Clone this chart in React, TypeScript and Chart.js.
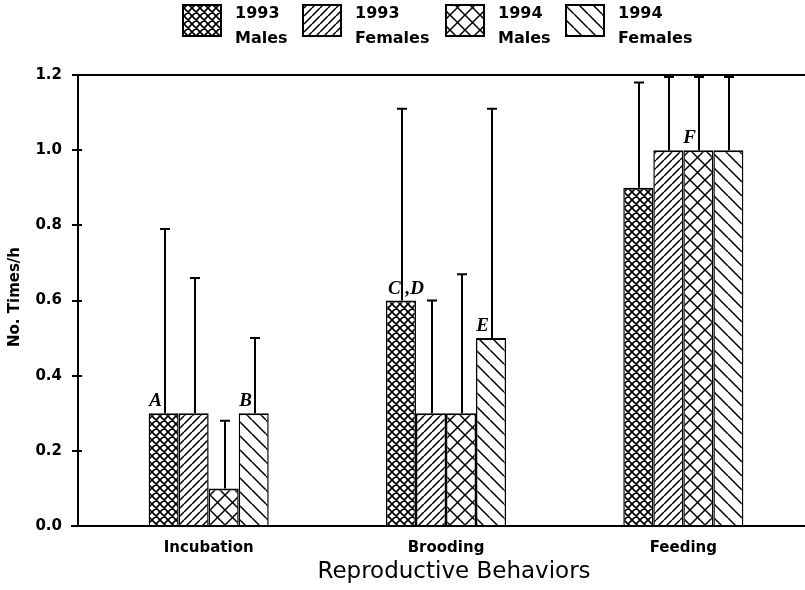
import React, { useEffect, useRef } from 'react';
import { Chart, registerables } from 'chart.js';

Chart.register(...registerables);

// ---------- data ----------
const categories = ['Incubation', 'Brooding', 'Feeding'];
const seriesNames = [
  ['1993', 'Males'],
  ['1993', 'Females'],
  ['1994', 'Males'],
  ['1994', 'Females'],
];
const males1993 = [0.3, 0.6, 0.9];
const females1993 = [0.3, 0.3, 1.0];
const males1994 = [0.1, 0.3, 1.0];
const females1994 = [0.3, 0.5, 1.0];
// upward error amounts (SD)
const errMales1993 = [0.49, 0.51, 0.28];
const errFemales1993 = [0.36, 0.3, 0.195];
const errMales1994 = [0.18, 0.37, 0.195];
const errFemales1994 = [0.2, 0.61, 0.195];
const yTicks = [0, 0.2, 0.4, 0.6, 0.8, 1.0, 1.2];
const xTitle = 'Reproductive Behaviors';
const yTitle = 'No. Times/h';
// letters placed above bars: [series index, category index, text]
const annotations: [number, number, string][] = [
  [0, 0, 'A'],
  [3, 0, 'B'],
  [0, 1, 'C ,D'],
  [3, 1, 'E'],
  [2, 2, 'F'],
];

const seriesValues = [males1993, females1993, males1994, females1994];
const seriesErrors = [errMales1993, errFemales1993, errMales1994, errFemales1994];

// ---------- styles ----------
const BOLD15 = 'bold 15px "DejaVu Sans"';

function makePattern(ctx: CanvasRenderingContext2D, kind: string, size: number, lw: number) {
  const c = document.createElement('canvas');
  c.width = size;
  c.height = size;
  const g = c.getContext('2d')!;
  g.fillStyle = '#fff';
  g.fillRect(0, 0, size, size);
  g.strokeStyle = '#000';
  g.lineWidth = lw;
  g.beginPath();
  const fwd = kind === 'fwd' || kind === 'cross';
  const back = kind === 'back' || kind === 'cross';
  for (let k = -1; k <= 1; k++) {
    if (fwd) {
      g.moveTo(k * size, size);
      g.lineTo(k * size + size, 0);
    }
    if (back) {
      g.moveTo(k * size, 0);
      g.lineTo(k * size + size, size);
    }
  }
  g.stroke();
  return ctx.createPattern(c, 'repeat')!;
}

export default function App() {
  const ref = useRef<HTMLCanvasElement>(null);

  useEffect(() => {
    const canvas = ref.current!;
    const ctx = canvas.getContext('2d')!;
    const patterns = [
      makePattern(ctx, 'cross', 8, 1.7),
      makePattern(ctx, 'fwd', 8, 1.5),
      makePattern(ctx, 'cross', 15, 1.5),
      makePattern(ctx, 'back', 14, 1.5),
    ];

    const axesPlugin = {
      id: 'axesPlugin',
      afterDraw(chart: any) {
        const c = chart.ctx as CanvasRenderingContext2D;
        const ys = chart.scales.y;
        const { top, bottom } = chart.chartArea;
        const ax = 78;
        c.save();
        c.strokeStyle = '#000';
        c.lineWidth = 2;
        c.beginPath();
        c.moveTo(ax, top - 1);
        c.lineTo(ax, bottom + 1);
        c.moveTo(72, top);
        c.lineTo(805, top);
        c.moveTo(71, bottom);
        c.lineTo(805, bottom);
        yTicks.forEach((v) => {
          const y = Math.round(ys.getPixelForValue(v));
          c.moveTo(72, y);
          c.lineTo(82, y);
        });
        c.stroke();
        // titles
        c.fillStyle = '#000';
        c.textAlign = 'center';
        c.textBaseline = 'middle';
        c.font = '23px "DejaVu Sans"';
        c.fillText(xTitle, 454, 572);
        c.save();
        c.translate(15, 297);
        c.rotate(-Math.PI / 2);
        c.font = BOLD15;
        c.fillText(yTitle, 0, 0);
        c.restore();
        // legend
        const boxX = [183, 303, 446, 566];
        c.font = 'bold 16px "DejaVu Sans"';
        c.textAlign = 'left';
        seriesNames.forEach((lines, i) => {
          c.fillStyle = patterns[i];
          c.fillRect(boxX[i], 5, 38, 31);
          c.strokeStyle = '#000';
          c.lineWidth = 2;
          c.strokeRect(boxX[i], 5, 38, 31);
          c.fillStyle = '#000';
          c.fillText(lines[0], boxX[i] + 52, 14);
          c.fillText(lines[1], boxX[i] + 52, 39);
        });
        c.restore();
      },
    };

    const errorPlugin = {
      id: 'errorPlugin',
      afterDatasetsDraw(chart: any) {
        const c = chart.ctx as CanvasRenderingContext2D;
        const ys = chart.scales.y;
        c.save();
        c.strokeStyle = '#000';
        c.lineWidth = 2;
        seriesErrors.forEach((errs, i) => {
          const meta = chart.getDatasetMeta(i);
          meta.data.forEach((el: any, j: number) => {
            const x = Math.round(el.x) + 1;
            const y1 = ys.getPixelForValue(seriesValues[i][j] + errs[j]);
            c.beginPath();
            c.moveTo(x, el.y);
            c.lineTo(x, y1);
            c.moveTo(x - 5, y1);
            c.lineTo(x + 5, y1);
            c.stroke();
          });
        });
        c.fillStyle = '#000';
        c.font = 'bold italic 19px "Liberation Serif"';
        c.textBaseline = 'alphabetic';
        annotations.forEach(([si, ci, text]) => {
          const el = chart.getDatasetMeta(si).data[ci];
          const x = Math.round(el.x) + 1;
          const y = el.y - 7;
          if (text.includes(',')) {
            c.textAlign = 'center';
            c.fillText(text, x + 4, y);
          } else {
            c.textAlign = 'right';
            c.fillText(text, x - 3, y);
          }
        });
        c.restore();
      },
    };

    const tickFont = { family: 'DejaVu Sans', weight: 'bold' as const, size: 15 };

    const chart = new Chart(canvas, {
      type: 'bar',
      data: {
        labels: categories,
        datasets: seriesValues.map((vals, i) => ({
          label: seriesNames[i].join(' '),
          data: vals,
          backgroundColor: patterns[i],
          borderColor: '#000',
          borderWidth: { top: 2, left: 1.5, right: 1.5, bottom: 0 },
          categoryPercentage: 0.506,
          barPercentage: 1,
        })),
      },
      options: {
        responsive: false,
        animation: false,
        devicePixelRatio: 1,
        layout: { padding: { top: 75, right: 3, left: 0, bottom: 0 } },
        plugins: {
          legend: { display: false },
          tooltip: { enabled: false },
          title: { display: false },
        },
        scales: {
          x: {
            grid: { display: false, drawTicks: false },
            border: { display: false },
            ticks: { padding: 13, color: '#000', font: tickFont },
            afterFit: (s: any) => {
              s.height = 64;
            },
          },
          y: {
            min: 0,
            max: 1.2,
            afterBuildTicks: (s: any) => {
              s.ticks = yTicks.map((v) => ({ value: v }));
            },
            ticks: {
              padding: 28,
              color: '#000',
              font: tickFont,
              callback: (v: any) => Number(v).toFixed(1),
            },
            grid: { display: false, drawTicks: false },
            border: { display: false },
            afterFit: (s: any) => {
              s.width = 90;
            },
          },
        },
      },
      plugins: [errorPlugin, axesPlugin],
    });
    return () => chart.destroy();
  }, []);

  return (
    <div style={{ position: 'absolute', left: 0, top: 0, width: 805, height: 590, background: '#fff' }}>
      <canvas ref={ref} width={805} height={590} style={{ display: 'block' }} />
    </div>
  );
}
